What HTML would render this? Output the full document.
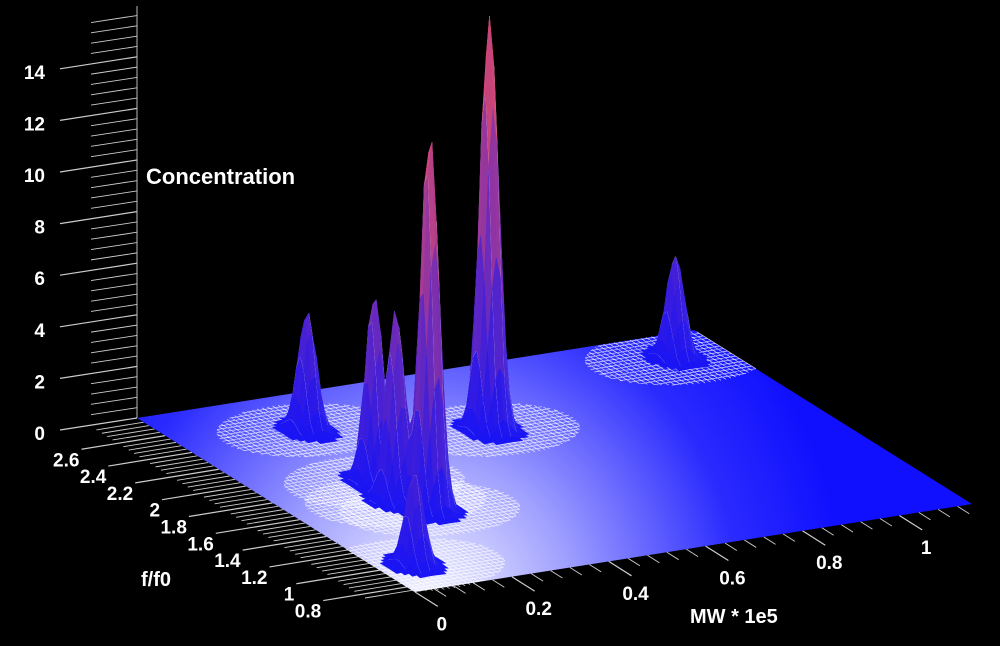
<!DOCTYPE html>
<html><head><meta charset="utf-8"><style>
html,body{margin:0;padding:0;background:#000;}
svg{display:block;}
text{font-family:"Liberation Sans",sans-serif;font-weight:bold;fill:#fff;}
</style></head><body>
<svg id="chart" width="1000" height="646" viewBox="0 0 1000 646" xmlns="http://www.w3.org/2000/svg">
<defs>
<radialGradient id="floorGrad" gradientUnits="userSpaceOnUse" cx="425" cy="605" r="420">
<stop offset="0" stop-color="#f6f6ff"/>
<stop offset="0.35" stop-color="#a0a0ff"/>
<stop offset="0.75" stop-color="#2a2aff"/>
<stop offset="1" stop-color="#1010ff"/>
</radialGradient>
</defs>
<rect x="0" y="0" width="1000" height="646" fill="#000"/>
<g id="axes"></g>
<polygon id="floor" fill="url(#floorGrad)"/>
<g id="discs"></g>
<g id="surface"></g>
<text x="146" y="184" font-size="22">Concentration</text>
<text x="141" y="586" font-size="20">f/f0</text>
<text x="690" y="623" font-size="20">MW * 1e5</text>
</svg>
<script>
// ---- data ----
const peakMW = [0.55, 0.249, 0.224, 0.209, 0.241, 0.071, 1.045];
const peakF = [2.17, 2.44, 1.85, 1.64, 1.50, 1.00, 2.57];
const peakConc = [16.2, 4.6, 7.3, 7.4, 14.8, 3.6, 4.0];
const zTickValues = [0, 2, 4, 6, 8, 10, 12, 14];
const fTickValues = [0.8, 1, 1.2, 1.4, 1.6, 1.8, 2, 2.2, 2.4, 2.6];
const mwTickValues = [0, 0.2, 0.4, 0.6, 0.8, 1];

// ---- projection ----
const A = [137, 418], UV = [557, -88], VV = [278, 174];
const MWMAX = 1.15, FTOP = 2.81, FSPAN = 2.07, ZS = 25.8;
function proj(mw, f, z) {
  const u = mw / MWMAX, v = (FTOP - f) / FSPAN;
  return [A[0] + u * UV[0] + v * VV[0], A[1] + u * UV[1] + v * VV[1] - z * ZS];
}
const NS = 'http://www.w3.org/2000/svg';
function mk(tag, attrs, parent) {
  const e = document.createElementNS(NS, tag);
  for (const k in attrs) e.setAttribute(k, attrs[k]);
  parent.appendChild(e);
  return e;
}
const axes = document.getElementById('axes');

// floor
const fl = document.getElementById('floor');
const c0 = proj(0, FTOP, 0), c1 = proj(MWMAX, FTOP, 0), c2 = proj(MWMAX, FTOP - FSPAN, 0), c3 = proj(0, FTOP - FSPAN, 0);
fl.setAttribute('points', [c0, c1, c2, c3].map(p => p.join(',')).join(' '));

// z axis
const zl = mk('line', {x1: 137, y1: 6, x2: 137, y2: 418, stroke: '#999', 'stroke-width': 1.2}, axes);


for (let k = 0; k <= 39; k++) {
  const z = k * 0.4;
  const y = 418 - z * ZS;
  const major = k % 5 === 0;
  const t = mk('line', {x1: major ? 60 : 91, y1: y + (major ? 12 : 7), x2: 137, y2: y, stroke: '#ccc', 'stroke-width': major ? 1.2 : 0.9}, axes);
  
  
}
zTickValues.forEach(z => {
  const y = 418 - z * ZS;
  const t = mk('text', {x: 45, y: y + 22, 'text-anchor': 'end', 'font-size': 19}, axes);
  t.textContent = String(z);
  
  
});

// f ticks
const fdx = -0.985, fdy = 0.16;
for (let k = 0; k <= 50; k++) {
  const f = 0.76 + k * 0.04;
  if (f > 2.79) break;
  const p = proj(0, f, 0);
  const major = Math.abs((f * 10) % 2) < 0.01 || Math.abs((f * 10) % 2 - 2) < 0.01;
  const len = major ? 85 : 48;
  const t = mk('line', {x1: p[0], y1: p[1], x2: p[0] + fdx * len, y2: p[1] + fdy * len, stroke: '#ccc', 'stroke-width': major ? 1.2 : 0.9}, axes);
  
  
}
fTickValues.forEach(f => {
  const p = proj(0, f, 0);
  const ex = p[0] + fdx * 85, ey = p[1] + fdy * 85;
  const t = mk('text', {x: ex - 2, y: ey + 17, 'text-anchor': 'end', 'font-size': 19}, axes);
  t.textContent = String(f);
  
  
});

// mw ticks
const mdx = 0.845, mdy = 0.534;
for (let k = 0; k <= 28; k++) {
  const mw = k * 0.04;
  const p = proj(mw, FTOP - FSPAN, 0);
  const major = k % 5 === 0;
  const len = major ? 27 : 14;
  const t = mk('line', {x1: p[0], y1: p[1], x2: p[0] + mdx * len, y2: p[1] + mdy * len, stroke: '#ccc', 'stroke-width': major ? 1.2 : 0.9}, axes);
  
  
}
mwTickValues.forEach(mw => {
  const p = proj(mw, FTOP - FSPAN, 0);
  const t = mk('text', {x: p[0] + mdx * 27 + 4, y: p[1] + mdy * 27 + 24, 'text-anchor': 'middle', 'font-size': 19}, axes);
  t.textContent = String(mw);
  
  
});

// discs (wireframe mesh around each peak)
const discs = document.getElementById('discs');
const RMW = 0.17, RF = 0.28, SMW = 0.011, SF = 0.03;
peakMW.forEach((cm, i) => {
  const cf = peakF[i];
  let d = '';
  for (let df = -RF; df <= RF + 1e-9; df += SF) {
    const w = RMW * Math.sqrt(Math.max(0, 1 - (df / RF) ** 2));
    const lo = Math.max(0, cm - w), hi = Math.min(MWMAX, cm + w);
    if (hi <= lo || cf + df > FTOP) continue;
    const p = proj(lo, cf + df, 0), q = proj(hi, cf + df, 0);
    d += 'M' + p[0].toFixed(1) + ' ' + p[1].toFixed(1) + 'L' + q[0].toFixed(1) + ' ' + q[1].toFixed(1);
  }
  for (let dm = -RMW; dm <= RMW + 1e-9; dm += SMW) {
    if (cm + dm < 0 || cm + dm > MWMAX) continue;
    const h = RF * Math.sqrt(Math.max(0, 1 - (dm / RMW) ** 2));
    const p = proj(cm + dm, cf - h, 0), q = proj(cm + dm, Math.min(FTOP, cf + h), 0);
    d += 'M' + p[0].toFixed(1) + ' ' + p[1].toFixed(1) + 'L' + q[0].toFixed(1) + ' ' + q[1].toFixed(1);
  }
  const e = mk('path', {d: d, stroke: '#ffffff', 'stroke-opacity': 0.8, 'stroke-width': 0.7, fill: 'none'}, discs);
  
  
});

// surface peaks
const SGM = 0.0155, SGF = 0.042;
function zAt(mw, f) {
  let s = 0;
  for (let i = 0; i < peakMW.length; i++) {
    s += peakConc[i] * Math.exp(-((mw - peakMW[i]) ** 2) / (2 * SGM * SGM) - ((f - peakF[i]) ** 2) / (2 * SGF * SGF));
  }
  return s;
}
const cells = [];
const DM = 0.009, DF = 0.025;
for (let i = 0; i * DM < MWMAX; i++) {
  for (let j = 0; 0.74 + j * DF < FTOP; j++) {
    const m0 = i * DM, m1 = m0 + DM, f0 = 0.74 + j * DF, f1 = f0 + DF;
    const z00 = zAt(m0, f0), z10 = zAt(m1, f0), z11 = zAt(m1, f1), z01 = zAt(m0, f1);
    const zm = Math.max(z00, z10, z11, z01);
    if (zm < 0.04) continue;
    const key = proj((m0 + m1) / 2, (f0 + f1) / 2, 0)[1];
    cells.push({m0, m1, f0, f1, z00, z10, z11, z01, key});
  }
}
cells.sort((a, b) => a.key - b.key);
const surf = document.getElementById('surface');
function colorFor(z, shade) {
  const t = Math.min(1, z / 16);
  let r = 25 + 215 * t, g = 20 + 60 * t, b = 245 - 150 * t;
  r = r + (255 - r) * shade; g = g + (255 - g) * shade; b = b + (255 - b) * shade;
  return 'rgb(' + (r | 0) + ',' + (g | 0) + ',' + (b | 0) + ')';
}
cells.forEach(c => {
  const p1 = proj(c.m0, c.f0, c.z00), p2 = proj(c.m1, c.f0, c.z10), p3 = proj(c.m1, c.f1, c.z11), p4 = proj(c.m0, c.f1, c.z01);
  const zavg = (c.z00 + c.z10 + c.z11 + c.z01) / 4;
  const slopeM = ((c.z10 + c.z11) - (c.z00 + c.z01)) / 2;
  let shade = Math.max(0, Math.min(0.5, -slopeM * 0.12));
  shade *= Math.max(0, 1 - zavg / 4);
  const col = colorFor(zavg, shade);
  const poly = mk('polygon', {points: [p1, p2, p3, p4].map(p => p[0].toFixed(1) + ',' + p[1].toFixed(1)).join(' '), fill: col, stroke: col, 'stroke-width': 0.5}, surf);
  
  
  if (zavg > 0.2 && Math.round(c.m0 / DM) % 2 === 0) {
    const ln = mk('line', {x1: p1[0], y1: p1[1], x2: p4[0], y2: p4[1], stroke: '#fff', 'stroke-opacity': 0.8, 'stroke-width': 0.7}, surf);
    
    
  }
});
</script>
</body></html>
